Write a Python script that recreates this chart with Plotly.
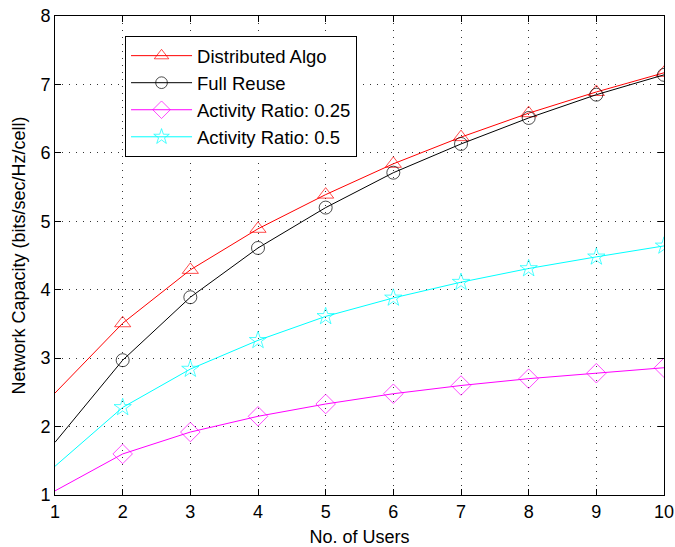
import plotly.graph_objects as go

# Number of users per cell
users = [1, 2, 3, 4, 5, 6, 7, 8, 9, 10]

# Network capacity (bits/sec/Hz/cell) for each scheme
distributed_algo = [2.49, 3.51, 4.29, 4.89, 5.39, 5.84, 6.23, 6.58, 6.89, 7.17]
full_reuse       = [1.77, 2.97, 3.89, 4.61, 5.20, 5.71, 6.13, 6.51, 6.85, 7.14]
activity_025     = [1.06, 1.60, 1.92, 2.15, 2.33, 2.48, 2.60, 2.70, 2.78, 2.86]
activity_05      = [1.42, 2.28, 2.84, 3.26, 3.61, 3.88, 4.11, 4.31, 4.48, 4.64]

series = [
    ("Distributed Algo", distributed_algo, "#ff0000", "triangle-up-open", 14),
    ("Full Reuse", full_reuse, "#000000", "circle-open", 13),
    ("Activity Ratio: 0.25", activity_025, "#ff00ff", "diamond-open", 15),
    ("Activity Ratio: 0.5", activity_05, "#00ffff", "star-open", 13),
]

FONT = "Liberation Sans, Arial, Helvetica, sans-serif"
TEXT = dict(family=FONT, size=18, color="black")
LEGEND_TEXT = dict(family=FONT, size=18.5, color="black")

fig = go.Figure()
for name, vals, color, symbol, size in series:
    # markers start at the second user; the first point is drawn as line only
    sizes = [0] + [size] * (len(users) - 1)
    fig.add_trace(go.Scatter(
        x=users, y=vals, name=name, mode="lines+markers",
        line=dict(color=color, width=1),
        marker=dict(symbol=symbol, size=sizes, color=color,
                    line=dict(color=color, width=1)),
    ))

axis_common = dict(
    showline=True, linecolor="black", linewidth=1, mirror="ticks",
    ticks="inside", ticklen=6, tickcolor="black",
    showgrid=True, gridcolor="#333333", gridwidth=1, griddash="1px,6px",
    zeroline=False, automargin=False,
    tickfont=TEXT,
)

fig.update_xaxes(
    range=[1, 10], tickvals=users, ticktext=[str(u) for u in users],
    title=dict(text="No. of Users", font=TEXT, standoff=10),
    **axis_common,
)
fig.update_yaxes(
    range=[1, 8], tickvals=[1, 2, 3, 4, 5, 6, 7, 8],
    title=dict(text="Network Capacity (bits/sec/Hz/cell)", font=TEXT, standoff=10),
    **axis_common,
)

fig.update_layout(
    width=675, height=547,
    margin=dict(l=55, r=11, t=16, b=52),
    paper_bgcolor="white", plot_bgcolor="white",
    font=TEXT,
    legend=dict(
        x=0.115, y=0.958, xanchor="left", yanchor="top",
        bgcolor="white", bordercolor="black", borderwidth=1,
        font=LEGEND_TEXT, itemwidth=61, tracegroupgap=0,
    ),
    showlegend=True,
)

fig.write_html("out.html")
